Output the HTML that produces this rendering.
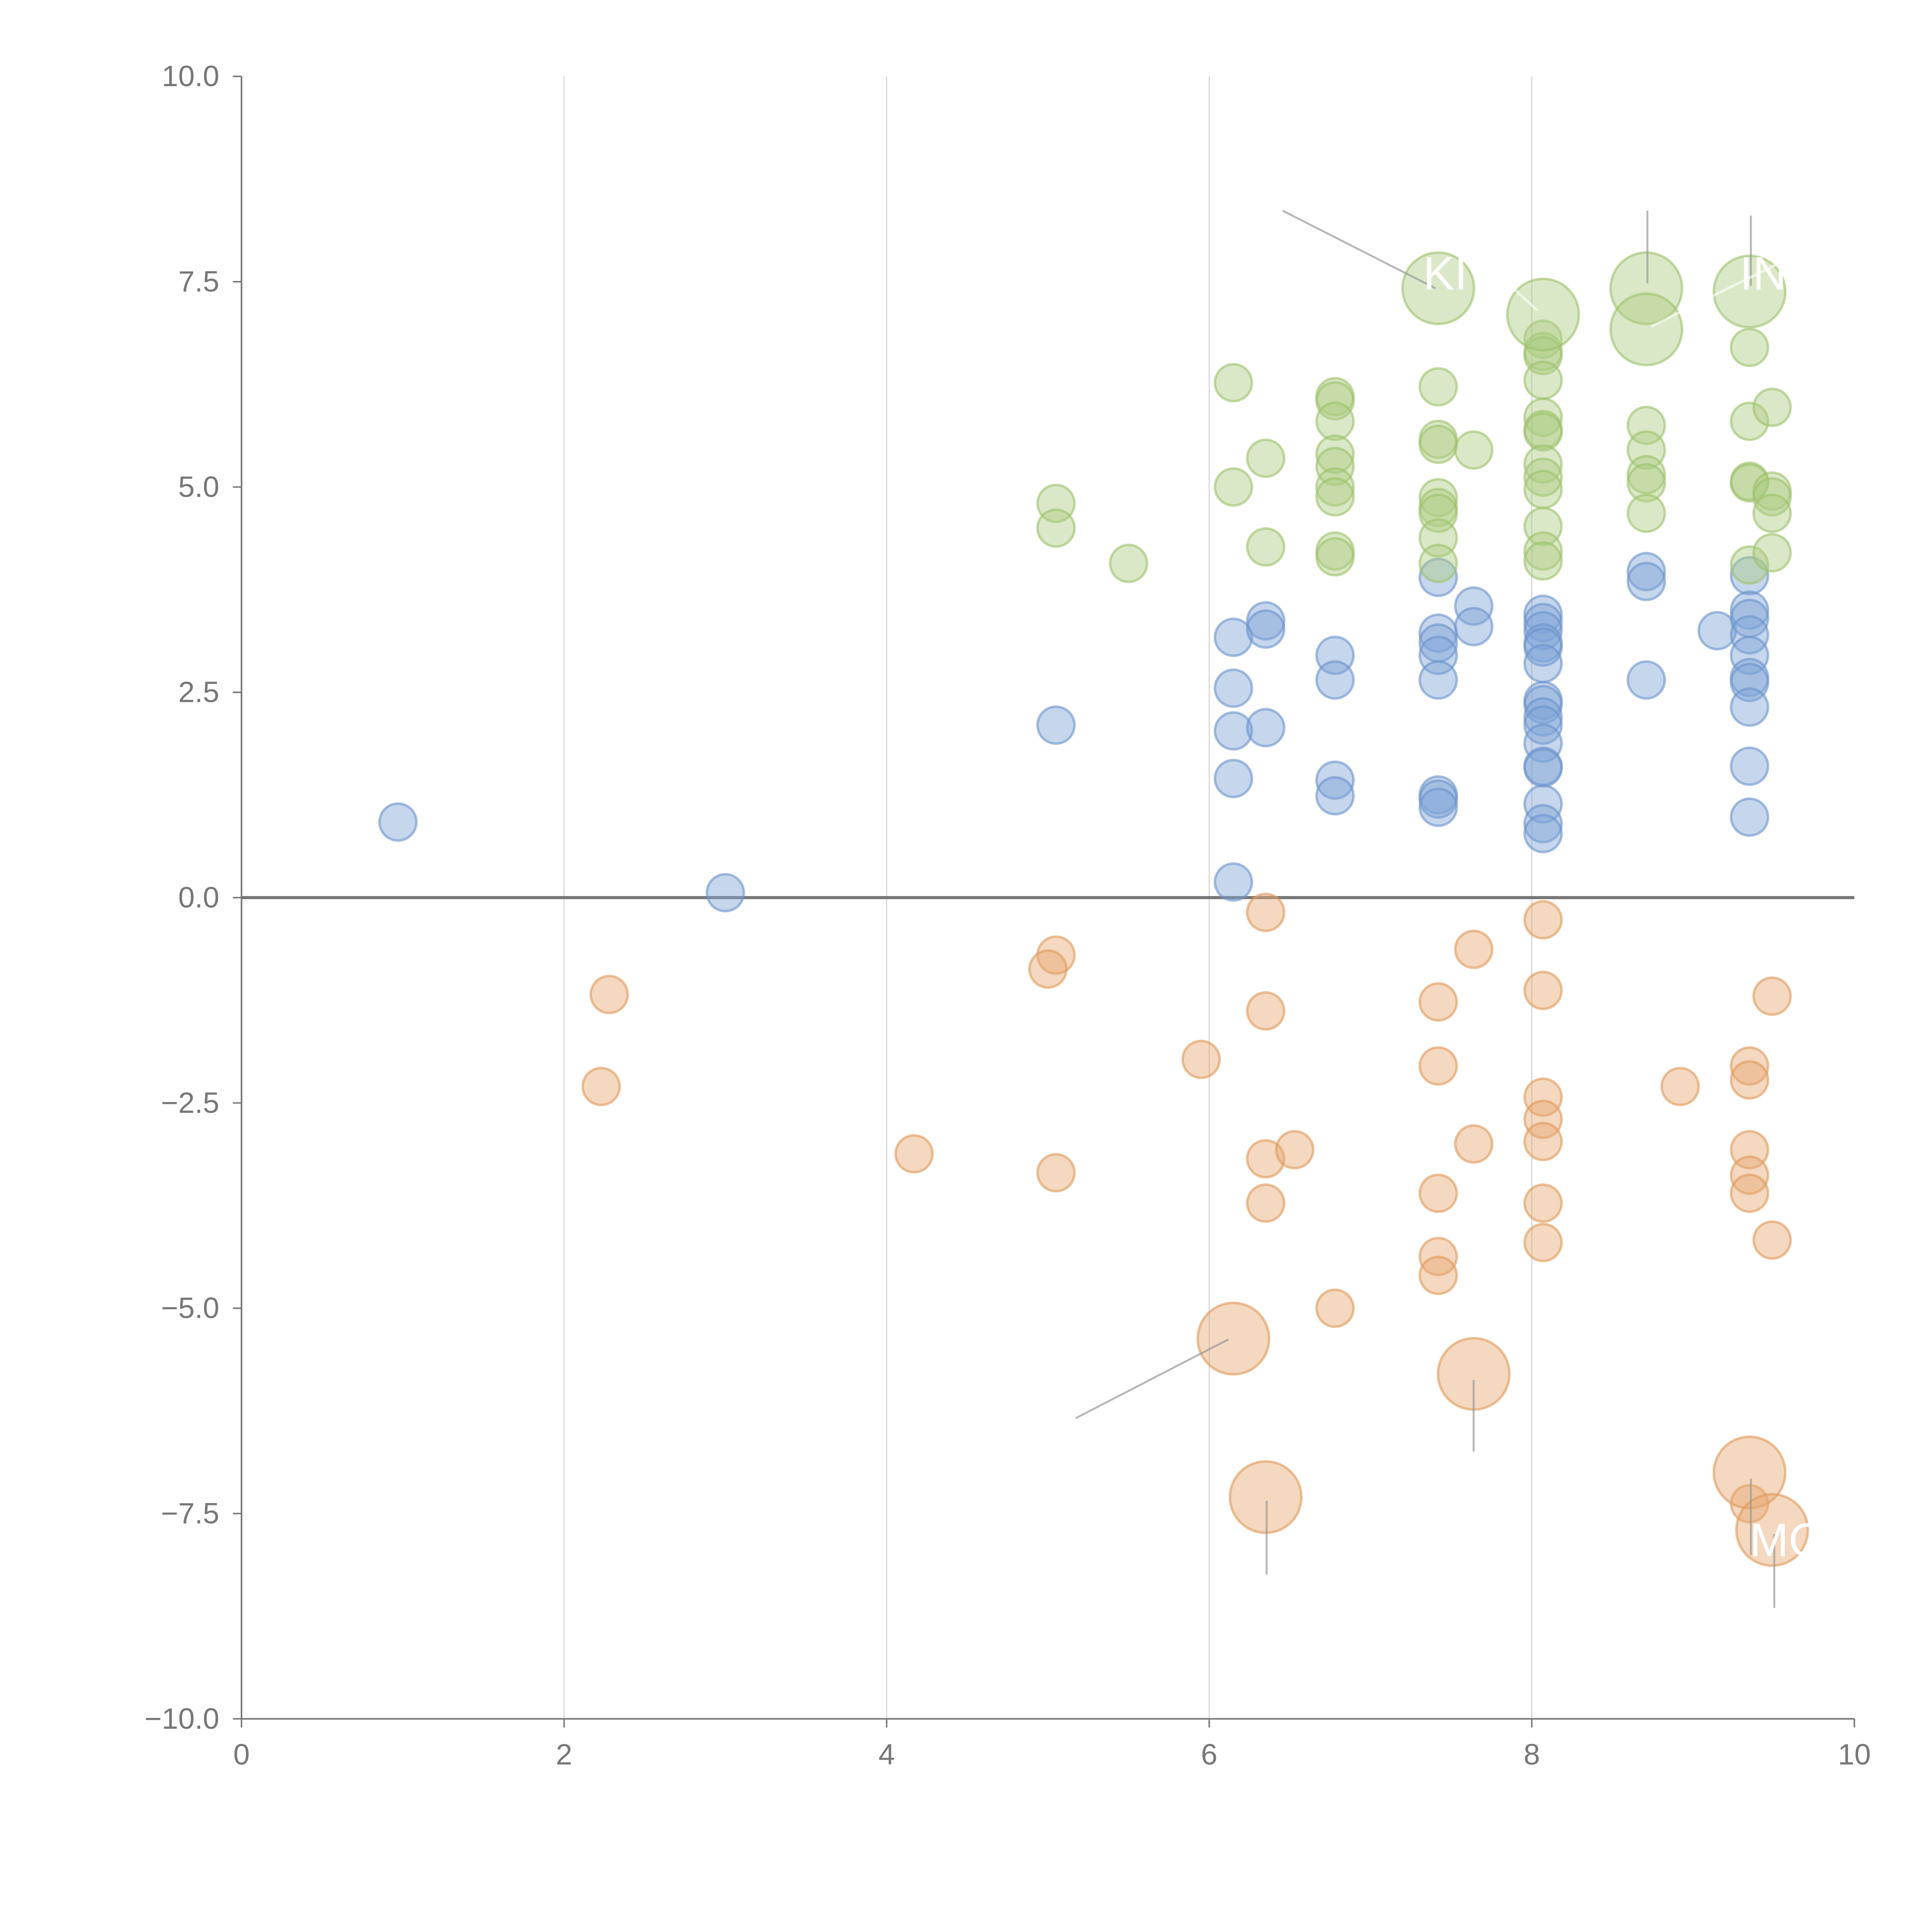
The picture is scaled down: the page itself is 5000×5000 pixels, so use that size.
<!DOCTYPE html>
<html><head><meta charset="utf-8"><style>
html,body{margin:0;padding:0;background:#fff;}
svg{display:block;}
text{font-family:"Liberation Sans",sans-serif;}
</style></head><body>
<svg id="chart" width="5000" height="5000" viewBox="0 0 1568 1568" xmlns="http://www.w3.org/2000/svg">
<g id="grid"></g>
<g id="axes"></g>
<g id="marks"></g>
<g id="ann"></g>
</svg>
<script>
const xTicks=[0,2,4,6,8,10];
const yTicks=[-10,-7.5,-5,-2.5,0,2.5,5,7.5,10];
const blueX=[0.97,3.0,5.05,6.15,6.15,6.15,6.15,6.15,6.35,6.35,6.35,6.78,6.78,6.78,6.78,7.42,7.42,7.42,7.42,7.42,7.42,7.42,7.42,7.64,7.64,8.07,8.07,8.07,8.07,8.07,8.07,8.07,8.07,8.07,8.07,8.07,8.07,8.07,8.07,8.07,8.07,8.71,8.71,8.71,9.15,9.35,9.35,9.35,9.35,9.35,9.35,9.35,9.35,9.35,9.35];
const blueY=[0.92,0.06,2.1,3.17,2.55,2.03,1.45,0.19,3.37,3.27,2.07,2.95,2.65,1.43,1.24,3.9,3.22,3.1,2.95,2.65,1.25,1.2,1.1,3.55,3.3,3.45,3.35,3.25,3.1,3.05,2.85,2.4,2.35,2.2,2.1,1.88,1.6,1.58,1.14,0.9,0.78,3.97,3.85,2.65,3.25,3.92,3.5,3.4,3.2,2.95,2.68,2.62,2.32,1.6,0.98];
const greenX=[5.05,5.05,5.5,6.15,6.15,6.35,6.35,6.78,6.78,6.78,6.78,6.78,6.78,6.78,6.78,6.78,7.42,7.42,7.42,7.42,7.42,7.42,7.42,7.42,7.64,8.07,8.07,8.07,8.07,8.07,8.07,8.07,8.07,8.07,8.07,8.07,8.07,8.07,8.71,8.71,8.71,8.71,8.71,9.35,9.35,9.35,9.35,9.35,9.49,9.49,9.49,9.49,9.49];
const greenY=[4.8,4.5,4.07,6.27,5.0,5.35,4.27,6.1,6.05,5.8,5.4,5.25,5.0,4.88,4.22,4.15,6.22,5.58,5.52,4.87,4.75,4.68,4.38,4.07,5.45,6.8,6.65,6.6,6.3,5.85,5.7,5.67,5.28,5.12,4.97,4.52,4.22,4.1,5.75,5.45,5.15,5.05,4.68,6.7,5.8,5.07,5.05,4.05,5.97,4.95,4.88,4.68,4.2];
const greenBigX=[7.42,8.07,8.71,8.71,9.35];
const greenBigY=[7.42,7.1,7.42,6.92,7.38];
const orangeX=[2.28,2.23,4.17,5.05,5.0,5.05,5.95,6.35,6.35,6.35,6.35,6.53,6.78,7.42,7.42,7.42,7.42,7.42,7.64,7.64,8.07,8.07,8.07,8.07,8.07,8.07,8.07,8.92,9.35,9.35,9.35,9.35,9.35,9.35,9.49,9.49];
const orangeY=[-1.18,-2.3,-3.12,-0.7,-0.87,-3.35,-1.97,-0.18,-1.38,-3.18,-3.72,-3.07,-5.0,-1.27,-2.05,-3.6,-4.37,-4.6,-0.63,-3.0,-0.27,-1.13,-2.43,-2.7,-2.97,-3.72,-4.2,-2.3,-2.05,-2.22,-3.07,-3.38,-3.6,-7.38,-1.2,-4.17];
const orangeBigX=[6.15,7.64,6.35,9.35,9.49];
const orangeBigY=[-5.37,-5.8,-7.3,-7.0,-7.7];

const NS="http://www.w3.org/2000/svg";
const X0=196,X1=1505,YT=62,YB=1395;
function sx(v){return X0+(v-0)/(10-0)*(X1-X0);}
function sy(v){return YB-(v+10)/20*(YB-YT);}
function mk(tag,attrs,parent){const e=document.createElementNS(NS,tag);for(const k in attrs)e.setAttribute(k,attrs[k]);parent.appendChild(e);return e;}
const grid=document.getElementById('grid'),axes=document.getElementById('axes'),marks=document.getElementById('marks'),ann=document.getElementById('ann');

xTicks.forEach(t=>{
  if(t>0&&t<10){const l=mk('line',{x1:sx(t),x2:sx(t),y1:YT,y2:YB,stroke:'#d8d8d8','stroke-width':1},grid);
  
  }
  const tk=mk('line',{x1:sx(t),x2:sx(t),y1:YB,y2:YB+7,stroke:'#777','stroke-width':1.2},axes);
  
  
  const tx=mk('text',{x:sx(t),y:YB+37,'text-anchor':'middle','font-size':24,fill:'#777'},axes);
  tx.textContent=String(t);
  
  
});
yTicks.forEach(t=>{
  const tk=mk('line',{x1:X0-7,x2:X0,y1:sy(t),y2:sy(t),stroke:'#777','stroke-width':1.2},axes);
  
  
  const tx=mk('text',{x:X0-18,y:sy(t)+8,'text-anchor':'end','font-size':24,fill:'#777'},axes);
  tx.textContent=(t<0?'\u2212':'')+Math.abs(t).toFixed(1);
  
  
});
let a=mk('line',{x1:X0,x2:X0,y1:YT,y2:YB,stroke:'#777','stroke-width':1.3},axes);


a=mk('line',{x1:X0,x2:X1,y1:YB,y2:YB,stroke:'#777','stroke-width':1.3},axes);


a=mk('line',{x1:X0,x2:X1,y1:sy(0),y2:sy(0),stroke:'#777','stroke-width':2.5},axes);



function draw(xs,ys,r,fill,stroke,name){
  xs.forEach((x,i)=>{
    const c=mk('circle',{cx:sx(x),cy:sy(ys[i]),r:r,fill:fill,'fill-opacity':0.45,stroke:stroke,'stroke-opacity':0.6,'stroke-width':2},marks);
    
    
  });
}
draw(blueX,blueY,15,'#7fa3d6','#6b93cc','bubble-blue');
draw(greenX,greenY,15,'#aecb82','#9dc26a','bubble-green');
draw(orangeX,orangeY,15,'#e6a871','#e09a5a','bubble-orange');
draw(greenBigX,greenBigY,29,'#aecb82','#9dc26a','bubble-green-large');
draw(orangeBigX,orangeBigY,29,'#e6a871','#e09a5a','bubble-orange-large');

const leaders=[[1041,171,1165,234],[1337,171,1337,230],[1421,175,1421,232],[873,1151,997,1087],[1196,1120,1196,1178],[1028,1218,1028,1278],[1421,1200,1421,1262],[1440,1245,1440,1305]];
leaders.forEach(l=>{
  const e=mk('line',{x1:l[0],y1:l[1],x2:l[2],y2:l[3],stroke:'#999','stroke-opacity':0.7,'stroke-width':1.6},ann);
  
  
});
[[1340,265,1445,213],[1226,232,1248,252]].forEach(l=>{
  const e=mk('line',{x1:l[0],y1:l[1],x2:l[2],y2:l[3],stroke:'#fff','stroke-opacity':0.6,'stroke-width':2},ann);
  
  
});
[['KI',1155,235],['IN',1412,235],['MO',1420,1263]].forEach(t=>{
  const e=mk('text',{x:t[1],y:t[2],'font-size':38,fill:'#fff'},ann);
  e.textContent=t[0];
  
  
});
</script>
</body></html>
